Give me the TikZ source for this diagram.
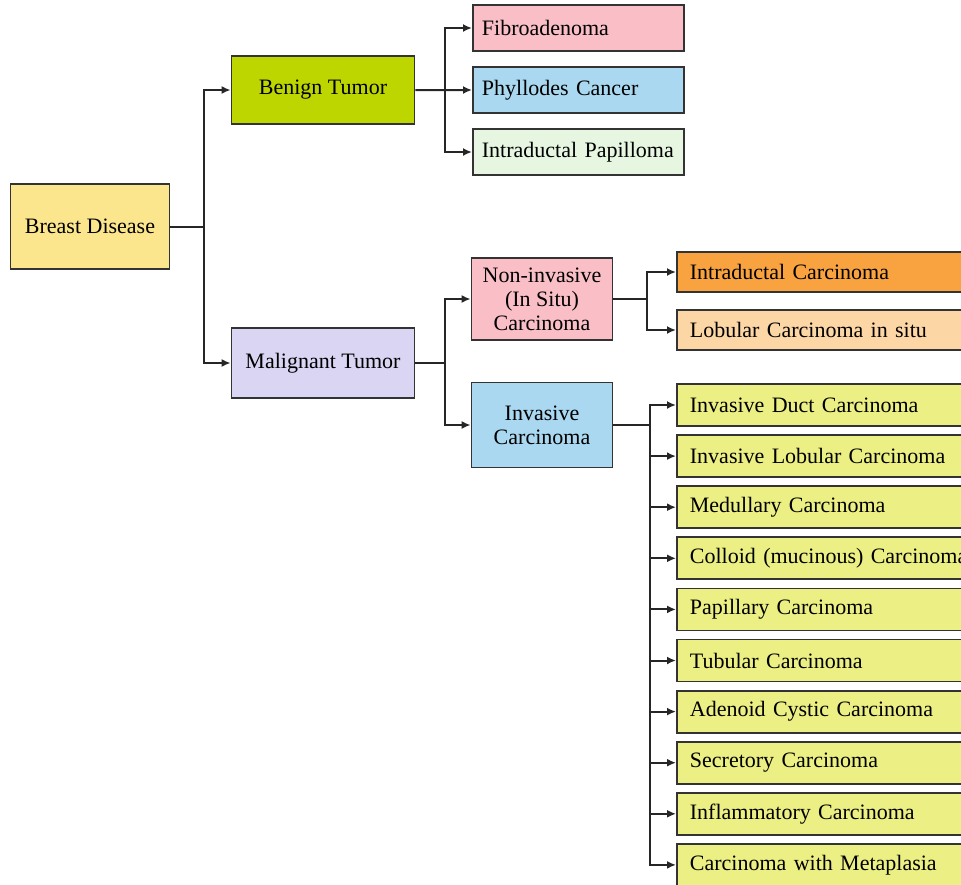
\documentclass[tikz,border=0pt]{standalone}
\usepackage{fontspec}
\setmainfont{Liberation Serif}
\usepackage{xcolor}
\usepackage{tikz}
\usetikzlibrary{arrows.meta,positioning}

\definecolor{rootyellow}{HTML}{FBE68E}
\definecolor{benigngreen}{HTML}{BED600}
\definecolor{maliglilac}{HTML}{D9D5F3}
\definecolor{softpink}{HTML}{F9BEC6}
\definecolor{softblue}{HTML}{A9D8F0}
\definecolor{palegreen}{HTML}{E6F6E1}
\definecolor{deeporange}{HTML}{F8A340}
\definecolor{peach}{HTML}{FDD6A6}
\definecolor{limeleaf}{HTML}{EBEF84}

\begin{document}
\begin{tikzpicture}[
  x=1pt, y=-1pt,
  node distance = 7.3pt,
  box/.style  = {draw=black!80, line width=1.8pt, inner sep=0pt,
                 font=\fontsize{22}{24}\selectfont, align=center},
  leaf/.style = {box, anchor=west, inner xsep=13pt, align=left},
  benignleaf/.style = {leaf, inner xsep=9pt, text width=193pt, minimum height=46pt},
  insituleaf/.style = {leaf, text width=290pt, minimum height=40pt},
  invleaf/.style    = {leaf, text width=290pt, minimum height=42pt, fill=limeleaf},
  link/.style  = {line width=2pt, black!85},
  arrow/.style = {link, -{Latex[length=9pt,width=8pt]}}
]
  \useasboundingbox (0,0) rectangle (961,884);
  \clip (0,0) rectangle (961,884);

  % Level 0 and 1
  \node[box, fill=rootyellow, minimum width=159pt, minimum height=85pt] (root) at (90,226.5) {Breast Disease};
  \node[box, fill=benigngreen, minimum width=183pt, minimum height=68pt] (benign) at (323,90) {Benign Tumor};
  \node[box, fill=maliglilac, minimum width=183pt, minimum height=70pt] (malig) at (323,363) {Malignant Tumor};

  % Benign subtypes
  \node[benignleaf, fill=softpink] (fibro) at (472,28) {Fibroadenoma};
  \node[benignleaf, fill=softblue, below=14.2pt of fibro] (phyl) {Phyllodes Cancer};
  \node[benignleaf, fill=palegreen, below=14.2pt of phyl] (papil) {Intraductal Papilloma};

  % Malignant subtypes
  \node[box, fill=softpink, minimum width=141pt, minimum height=82pt] (insitu) at (542,299) {Non-invasive\\(In Situ)\\Carcinoma};
  \node[box, fill=softblue, minimum width=141pt, minimum height=85pt] (invas) at (542,425) {Invasive\\Carcinoma};

  % In situ carcinomas
  \node[insituleaf, fill=deeporange] (idc) at (676,272) {Intraductal Carcinoma};
  \node[insituleaf, fill=peach, below=16.2pt of idc] (lcis) {Lobular Carcinoma in situ};

  % Invasive carcinomas
  \node[invleaf] (duct) at (676,405) {Invasive Duct Carcinoma};
  \node[invleaf, below=of duct]   (lobul) {Invasive Lobular Carcinoma};
  \node[invleaf, below=of lobul]  (medul) {Medullary Carcinoma};
  \node[invleaf, below=of medul]  (colloid) {Colloid (mucinous) Carcinoma};
  \node[invleaf, below=of colloid] (papca) {Papillary Carcinoma};
  \node[invleaf, below=of papca]  (tubul) {Tubular Carcinoma};
  \node[invleaf, below=of tubul]  (adeno) {Adenoid Cystic Carcinoma};
  \node[invleaf, below=of adeno]  (secret) {Secretory Carcinoma};
  \node[invleaf, below=of secret] (inflam) {Inflammatory Carcinoma};
  \node[invleaf, below=of inflam] (metap) {Carcinoma with Metaplasia};

  % Junctions
  \coordinate (jroot) at (204,226.5);
  \coordinate (jben)  at (445,90);
  \coordinate (jmal)  at (445,363);
  \coordinate (jsitu) at (647,299);
  \coordinate (jinv)  at (650,425);

  % Root split
  \draw[link]  (root.east) -- (jroot);
  \draw[arrow] (jroot) |- (benign.west);
  \draw[arrow] (jroot) |- (malig.west);

  % Benign split
  \draw[arrow] (benign.east) -- (phyl.west);
  \draw[arrow] (jben) |- (fibro.west);
  \draw[arrow] (jben) |- (papil.west);

  % Malignant split
  \draw[link]  (malig.east) -- (jmal);
  \draw[arrow] (jmal) |- (insitu.west);
  \draw[arrow] (jmal) |- (invas.west);

  % In situ split
  \draw[link]  (insitu.east) -- (jsitu);
  \draw[arrow] (jsitu) |- (idc.west);
  \draw[arrow] (jsitu) |- (lcis.west);

  % Invasive split
  \draw[link]  (invas.east) -- (jinv);
  \draw[arrow] (jinv) |- (duct.west);
  \draw[arrow] (jinv) |- (lobul.west);
  \draw[arrow] (jinv) |- (medul.west);
  \draw[arrow] (jinv) |- (colloid.west);
  \draw[arrow] (jinv) |- (papca.west);
  \draw[arrow] (jinv) |- (tubul.west);
  \draw[arrow] (jinv) |- (adeno.west);
  \draw[arrow] (jinv) |- (secret.west);
  \draw[arrow] (jinv) |- (inflam.west);
  \draw[arrow] (jinv) |- (metap.west);
\end{tikzpicture}
\end{document}
